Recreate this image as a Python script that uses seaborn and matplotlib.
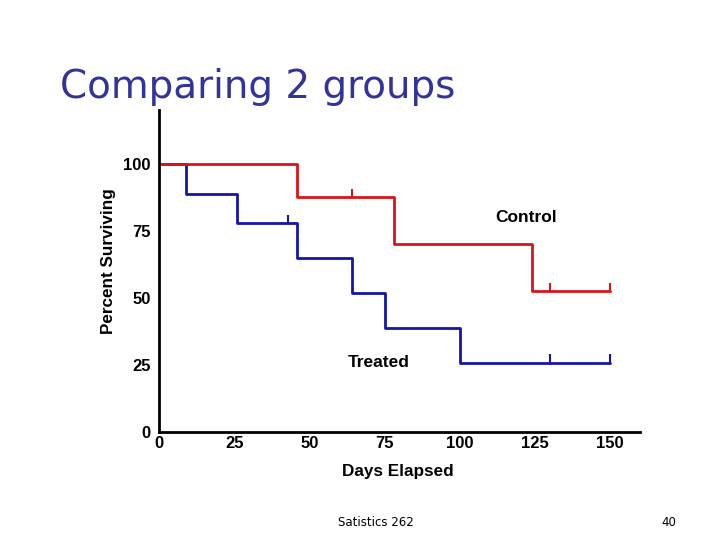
import numpy as np
import pandas as pd
import matplotlib
matplotlib.use("Agg")
import matplotlib.pyplot as plt
import seaborn as sns

# Kaplan-Meier style survival steps
control_days = [0, 46, 78, 124, 150]
control_surv = [100, 87.5, 70, 52.5, 52.5]
control_censor = [64, 130, 150]

treated_days = [0, 9, 26, 46, 64, 75, 100, 150]
treated_surv = [100, 88.9, 77.8, 64.8, 51.9, 38.9, 25.9, 25.9]
treated_censor = [43, 130, 150]

x_ticks = [0, 25, 50, 75, 100, 125, 150]
y_ticks = [0, 25, 50, 75, 100]

red = "#d9141b"
blue = "#1515a6"

sns.set_style("white")
plt.rcParams["font.family"] = ["Liberation Sans", "DejaVu Sans"]

fig = plt.figure(figsize=(7.2, 5.4), dpi=100)
ax = fig.add_axes([0.221, 0.2, 0.668, 0.596])

ctrl = pd.DataFrame({"day": control_days, "surv": control_surv})
trt = pd.DataFrame({"day": treated_days, "surv": treated_surv})

# treated first so the control line sits on top at 100%
sns.lineplot(data=trt, x="day", y="surv", ax=ax, color=blue, lw=2,
             drawstyle="steps-post", sort=False)
sns.lineplot(data=ctrl, x="day", y="surv", ax=ax, color=red, lw=2,
             drawstyle="steps-post", sort=False)

# censoring marks: small vertical ticks sitting on the curve
def surv_at(days, surv, t):
    idx = np.searchsorted(days, t, side="right") - 1
    return surv[idx]

for t in control_censor:
    y = surv_at(control_days, control_surv, t)
    ax.vlines(t, y, y + 3, color=red, lw=1.5)
for t in treated_censor:
    y = surv_at(treated_days, treated_surv, t)
    ax.vlines(t, y, y + 3, color=blue, lw=1.5)

ax.text(122, 80, "Control", ha="center", va="center", fontsize=12.5,
        fontweight="bold", color="black")
ax.text(73, 26, "Treated", ha="center", va="center", fontsize=12.5,
        fontweight="bold", color="black")

ax.set_xlim(0, 160)
ax.set_ylim(0, 120)
ax.set_xticks(x_ticks)
ax.set_yticks(y_ticks)
ax.tick_params(axis="x", direction="in", length=6, width=2, labelsize=12,
               pad=3, colors="black")
ax.tick_params(axis="y", direction="out", length=5, width=1.5, labelsize=12,
               pad=1, colors="black")
for lab in ax.get_xticklabels() + ax.get_yticklabels():
    lab.set_fontweight("bold")

ax.set_xlabel("Days Elapsed", fontsize=12.3, fontweight="bold", color="black")
ax.set_ylabel("Percent Surviving", fontsize=12.3, fontweight="bold", color="black")
ax.xaxis.set_label_coords(0.497, -0.10)
ax.yaxis.set_label_coords(-0.09, 0.53)

sns.despine(ax=ax)
for s in ["left", "bottom"]:
    ax.spines[s].set_linewidth(2)
    ax.spines[s].set_color("black")

fig.text(60 / 720, 1 - 87 / 540, "Comparing 2 groups", fontsize=28, color="#333399",
         va="center", ha="left", family="DejaVu Sans")
fig.text(338 / 720, 1 - 523 / 540, "Satistics 262", fontsize=8.5, va="center", ha="left",
         family="DejaVu Sans", color="black")
fig.text(676 / 720, 1 - 523 / 540, "40", fontsize=8.5, va="center", ha="right",
         family="DejaVu Sans", color="black")

fig.savefig("out.png", dpi=100)
